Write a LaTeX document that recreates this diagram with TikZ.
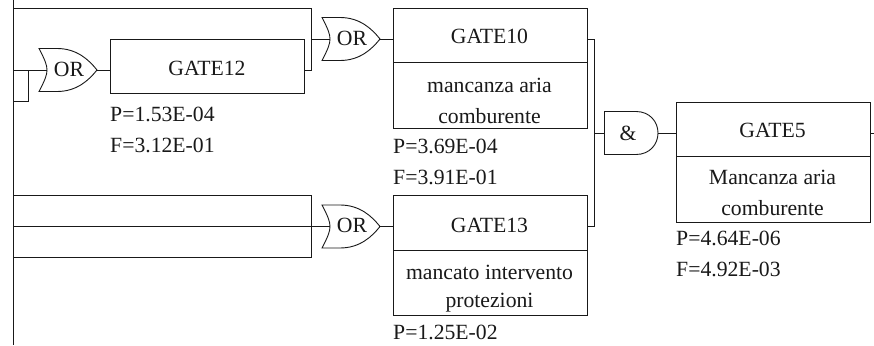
\documentclass[tikz,border=0pt]{standalone}
\usepackage{fontspec}
\setmainfont{Liberation Serif}
\usetikzlibrary{calc}
\tikzset{
  wire/.style={line width=0.9pt,line cap=rect,color=black!90},
  boxn/.style={draw,line width=0.9pt,color=black!90,text=black,anchor=north west,inner sep=0pt,minimum width=193.5pt},
  txt/.style={font=\fontsize{21.7}{21.7}\selectfont,inner sep=0pt,text=black!90},
  val/.style={txt,anchor=base west},
  gatebody/.style={line width=0.9pt,color=black!90},
}
\newcommand{\orgate}[3]{% name, x of left tips, y centre
  \coordinate (#1in) at (#2+8,#3);
  \coordinate (#1out) at (#2+58,#3);
  \draw[gatebody] (#2,#3-21.5) .. controls (#2+6,#3-10) and (#2+8,#3-5) .. (#1in)
     .. controls (#2+8,#3+5) and (#2+6,#3+10) .. (#2,#3+21.5)
     -- (#2+18,#3+21.5) .. controls (#2+38,#3+21.5) and (#2+50,#3+10) .. (#1out)
     .. controls (#2+50,#3-10) and (#2+38,#3-21.5) .. (#2+18,#3-21.5) -- cycle;
  \node[txt] (#1) at (#2+30,#3-1) {OR};
}
\begin{document}
\begin{tikzpicture}[x=1pt,y=-1pt]
\useasboundingbox (0,0) rectangle (874,345);
\fill[white] (0,0) rectangle (874,345);
% coordinates of the bus
\coordinate (rail0) at (13.5,0);
\coordinate (rail1) at (13.5,345);
\draw[wire,line cap=butt] (rail0) -- (rail1);
% boxes
\node[boxn,minimum height=54pt] (g12) at (110,39) {};
\node[txt] (g12t) at (207,68) {GATE12};
\node[boxn,minimum height=54pt] (g10) at (393,8) {};
\node[boxn,minimum height=66pt] (g10b) at (393,62) {};
\node[txt] (g10t) at (489.5,36) {GATE10};
\node[txt] (g10a) at (489.5,85) {mancanza aria};
\node[txt] (g10c) at (489.5,116) {comburente};
\node[boxn,minimum height=55pt] (g13) at (393,195) {};
\node[boxn,minimum height=65pt] (g13b) at (393,250) {};
\node[txt] (g13t) at (489.5,225) {GATE13};
\node[txt] (g13a) at (489.5,272) {mancato intervento};
\node[txt] (g13c) at (489.5,303) {protezioni};
\node[boxn,minimum height=54.5pt] (g5) at (676,101.5) {};
\node[boxn,minimum height=65.5pt] (g5b) at (676,156) {};
\node[txt] (g5t) at (772.5,130) {GATE5};
\node[txt] (g5a) at (772.5,177) {Mancanza aria};
\node[txt] (g5c) at (772.5,208) {comburente};
% values
\node[val] (p12) at (110,121.5) {P=1.53E-04};
\node[val] (f12) at (110,152.7) {F=3.12E-01};
\node[val] (p10) at (393,153.7) {P=3.69E-04};
\node[val] (f10) at (393,184.7) {F=3.91E-01};
\node[val] (p13) at (393,339.7) {P=1.25E-02};
\node[val] (p5) at (676,245.7) {P=4.64E-06};
\node[val] (f5) at (676,276.7) {F=4.92E-03};
% gates
\orgate{ora}{39}{70}
\orgate{orb}{322}{39}
\orgate{orc}{322}{226.5}
% AND gate
\coordinate (andin) at (604.5,133);
\coordinate (andout) at (658,133);
\draw[gatebody] (604.5,111.5) -- (636,111.5) .. controls (650,111.5) and (658,122) .. (andout)
  .. controls (658,144) and (650,154.5) .. (636,154.5) -- (604.5,154.5) -- cycle;
\node[txt] (and) at (628,133) {\&};
% connectors
\coordinate (t1) at (13.5,8);
\coordinate (t2) at (311.5,8);
\coordinate (t3) at (311.5,70);
\coordinate (j39) at (311.5,39);
\draw[wire,line cap=butt] (t1) -- (t2) -- (t3) -- (g12.east |- t3);
\draw[wire] (j39) -- (orbin);
\draw[wire] (orbout) -- (g10.west |- orbout);
\draw[wire] (oraout) -- (g12.west |- oraout);
\coordinate (l70) at (13.5,70);
\coordinate (l101) at (13.5,101);
\coordinate (k70) at (28.5,70);
\coordinate (k101) at (28.5,101);
\draw[wire,line cap=butt] (l70) -- (orain);
\draw[wire,line cap=butt] (l101) -- (k101) -- (k70);
\coordinate (u1) at (13.5,195);
\coordinate (u2) at (311.5,195);
\coordinate (u3) at (311.5,257.5);
\coordinate (u4) at (13.5,257.5);
\draw[wire,line cap=butt] (u1) -- (u2) -- (u3) -- (u4);
\coordinate (m1) at (13.5,226.5);
\draw[wire,line cap=butt] (m1) -- (orcin);
\draw[wire] (orcout) -- (g13.west |- orcout);
\coordinate (b1) at (594.5,39);
\coordinate (b2) at (594.5,226.5);
\coordinate (b3) at (594.5,133);
\draw[wire,line cap=butt] (g10.east |- b1) -- (b1) -- (b2) -- (g13.east |- b2);
\draw[wire,line cap=butt] (b3) -- (andin);
\draw[wire,line cap=butt] (andout) -- (g5.west |- andout);
\coordinate (e) at (874,133);
\draw[wire,line cap=butt] (g5.east |- e) -- (e);
\end{tikzpicture}
\end{document}
